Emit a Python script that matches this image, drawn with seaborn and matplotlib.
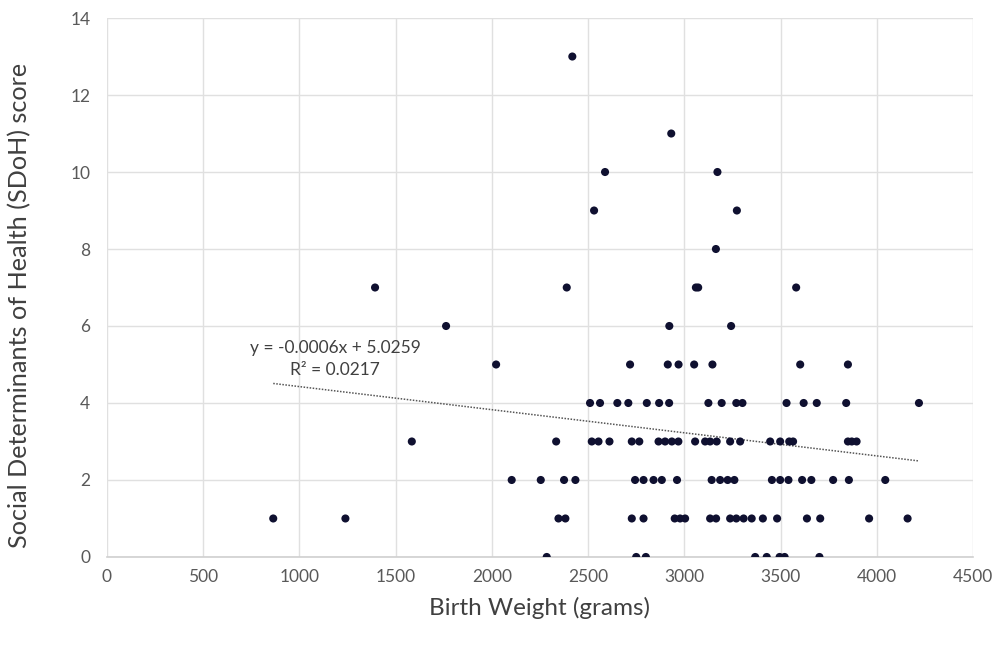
import numpy as np
import pandas as pd
import matplotlib
matplotlib.use("Agg")
import matplotlib.pyplot as plt
import seaborn as sns

# ---- data ----
birth_weight_g = [
    # score 0
    2285, 2750, 2800, 3368, 3428, 3495, 3521, 3702,
    # score 1
    864, 1239, 2346, 2382, 2727, 2788, 2950, 2978, 3004, 3134, 3165, 3238,
    3270, 3308, 3350, 3408, 3482, 3637, 3706, 3960, 4160,
    # score 2
    2103, 2254, 2375, 2434, 2744, 2788, 2840, 2883, 2962, 3142, 3186, 3225,
    3260, 3455, 3498, 3541, 3612, 3660, 3773, 3855, 4044,
    # score 3
    1584, 2334, 2519, 2554, 2611, 2727, 2766, 2866, 2900, 2935, 2969, 3056,
    3108, 3134, 3168, 3238, 3290, 3446, 3498, 3545, 3565, 3850, 3870, 3895,
    # score 4
    2510, 2562, 2652, 2709, 2805, 2869, 2921, 3125, 3194, 3270, 3302, 3531,
    3620, 3688, 3841, 4219,
    # score 5
    2022, 2718, 2914, 2970, 3051, 3146, 3602, 3850,
    # score 6
    1762, 2922, 3243,
    # score 7
    1393, 2389, 3060, 3072, 3581,
    # score 8
    3164,
    # score 9
    2531, 3273,
    # score 10
    2588, 3172,
    # score 11
    2932,
    # score 13
    2418,
]
sdoh_score = (
    [0] * 8 + [1] * 21 + [2] * 21 + [3] * 24 + [4] * 16 + [5] * 8 + [6] * 3
    + [7] * 5 + [8] * 1 + [9] * 2 + [10] * 2 + [11] * 1 + [13] * 1
)
trend_slope = -0.0006
trend_intercept = 5.0259
r_squared = 0.0217
x_ticks = [0, 500, 1000, 1500, 2000, 2500, 3000, 3500, 4000, 4500]
y_ticks = [0, 2, 4, 6, 8, 10, 12, 14]

df = pd.DataFrame({"Birth Weight (grams)": birth_weight_g,
                   "Social Determinants of Health (SDoH) score": sdoh_score})

sns.set_theme(style="white")
plt.rcParams["font.family"] = ["Lato", "DejaVu Sans"]

fig = plt.figure(figsize=(9.94, 6.46), dpi=100)
ax = fig.add_axes([0.1076, 0.1378, 0.8713, 0.8343])

sns.scatterplot(data=df, x="Birth Weight (grams)",
                y="Social Determinants of Health (SDoH) score",
                ax=ax, s=34, color="#0f1030", edgecolor="none", zorder=3)

# linear trendline over data range
xs = np.array([min(birth_weight_g), max(birth_weight_g)])
ax.plot(xs, trend_intercept + trend_slope * xs, linestyle=(0, (1, 1)),
        color="#555555", linewidth=1.1, zorder=2)

ax.text(1185, 5.43, f"y = {trend_slope:.4f}x + {trend_intercept:.4f}",
        ha="center", va="center", fontsize=12.5, color="#404040")
ax.text(1185, 4.86, f"R² = {r_squared:.4f}",
        ha="center", va="center", fontsize=12.5, color="#404040")

ax.set_xlim(0, 4500)
ax.set_ylim(0, 14)
ax.set_xticks(x_ticks)
ax.set_yticks(y_ticks)
ax.tick_params(axis="both", labelsize=12.5, colors="#595959", length=0)
ax.tick_params(axis="x", pad=9)
ax.tick_params(axis="y", pad=12)
ax.grid(True, color="#e0e0e0", linewidth=1)
ax.set_axisbelow(True)
for side in ["top", "right", "left"]:
    ax.spines[side].set_visible(False)
ax.spines["bottom"].set_color("#d0d0d0")
ax.spines["bottom"].set_linewidth(1.2)

ax.set_xlabel("Birth Weight (grams)", fontsize=17.5, color="#404040", labelpad=8)
ax.set_ylabel("Social Determinants of Health (SDoH) score", fontsize=18.2,
              color="#404040")
ax.yaxis.set_label_coords(-0.087, 0.4675)

fig.savefig("out.png", dpi=100, facecolor="white")
